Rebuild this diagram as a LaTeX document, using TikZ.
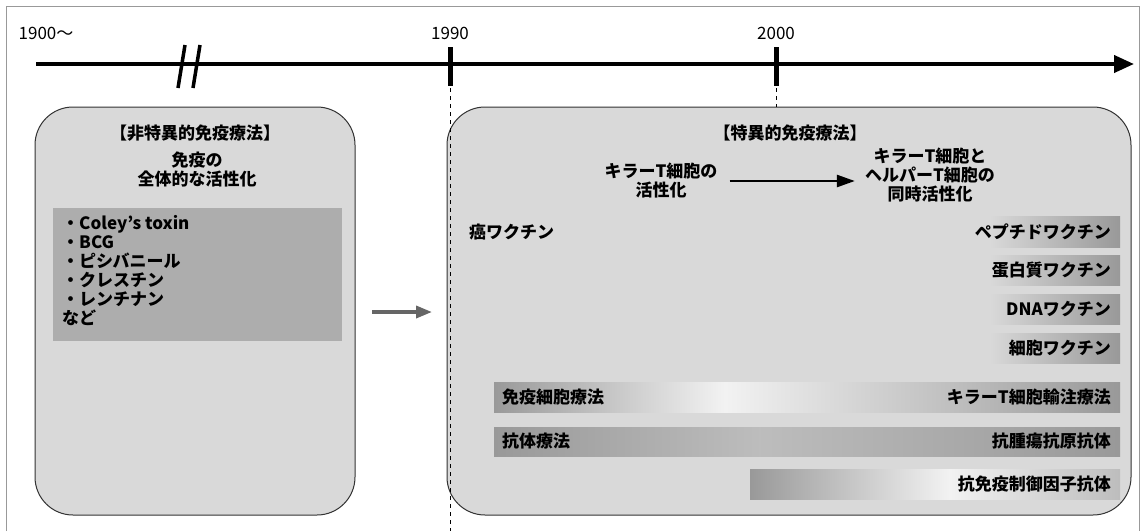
\documentclass[tikz,border=0pt]{standalone}
\usepackage{fontspec}
\setmainfont{Noto Sans CJK JP}
\usetikzlibrary{arrows.meta}
\definecolor{boxfill}{gray}{0.85}
\definecolor{rectfill}{gray}{0.68}
\definecolor{bardark}{gray}{0.60}
\definecolor{barmid}{gray}{0.74}
\definecolor{barlight}{gray}{0.95}
\definecolor{framegray}{gray}{0.6}
\begin{document}
\begin{tikzpicture}[x=1pt,y=-1pt,
  yearlbl/.style={font=\fontsize{17}{20}\selectfont, inner sep=0pt},
  txt/.style={font=\bfseries\fontsize{17}{19}\selectfont, inner sep=0pt, align=center},
  roundbox/.style={draw=black!80, line width=1pt, fill=boxfill, rounded corners=38pt},
  tickmark/.style={line width=5pt},
  breakmark/.style={line width=3.5pt},
  guide/.style={line width=1pt, dash pattern=on 4pt off 4pt},
  timeline/.style={line width=4pt, -{Triangle[length=20pt,width=17pt]}},
  grayarrow/.style={draw=black!60, line width=3.5pt, -{Triangle[length=16pt,width=12pt]}},
  blackarrow/.style={line width=2.5pt, -{Triangle[length=18pt,width=12pt]}}]
\useasboundingbox (0,0) rectangle (1141,531);
% outer frame
\draw[framegray, line width=0.8pt] (6,531) -- (6,6) -- (1139,6) -- (1139,531);

% boxes
\draw[roundbox] (35,107) rectangle (355,515);
\draw[roundbox] (447,107) rectangle (1131,515);

% guides
\draw[guide] (450,88) -- (450,531);
\draw[guide] (776,88) -- (776,107);

% timeline
\coordinate (t0) at (36,64);
\coordinate (t1) at (1134,64);
\draw[timeline] (t0) -- (t1);
\draw[tickmark] (450,47) -- (450,86);
\draw[tickmark] (776,47) -- (776,86);
\draw[breakmark] (185,45) -- (178,88);
\draw[breakmark] (200,45) -- (193,88);
\node[yearlbl] (y1900) at (46,33) {1900〜};
\node[yearlbl] (y1990) at (450,33) {1990};
\node[yearlbl] (y2000) at (776,33) {2000};

% left box content
\node[txt] (ltitle) at (195,133) {【非特異的免疫療法】};
\node[txt] (lsub) at (197,169) {免疫の\\全体的な活性化};
\fill[rectfill] (53,208) rectangle (342,341);
\node[txt, align=left, anchor=north west] (litems) at (62,215)
  {・Coley’s toxin\\・BCG\\・ピシバニール\\・クレスチン\\・レンチナン\\など};

% gray arrow between boxes
\coordinate (ga0) at (372,312);
\coordinate (ga1) at (432,312);
\draw[grayarrow] (ga0) -- (ga1);

% right box content
\node[txt] (rtitle) at (790,133) {【特異的免疫療法】};
\node[txt] (k1) at (661,181) {キラーT細胞の\\活性化};
\node[txt] (k2) at (930,175) {キラーT細胞と\\ヘルパーT細胞の\\同時活性化};
\draw[blackarrow, shorten <=12pt, shorten >=10pt] (k1.east) -- (k1.east -| k2.west);

% vaccine bars
\shade[left color=boxfill, right color=bardark] (990,216) rectangle (1120,247);
\shade[left color=boxfill, right color=bardark] (990,255) rectangle (1120,285);
\shade[left color=boxfill, right color=bardark] (990,294) rectangle (1120,324);
\shade[left color=boxfill, right color=bardark] (990,333) rectangle (1120,363);
\node[txt, anchor=west] (gan) at (469,232) {癌ワクチン};
\node[txt, anchor=east] (pep) at (1111,232) {ペプチドワクチン};
\node[txt, anchor=east] (prot) at (1111,270) {蛋白質ワクチン};
\node[txt, anchor=east] (dna) at (1111,309) {DNAワクチン};
\node[txt, anchor=east] (cell) at (1111,348) {細胞ワクチン};

% therapy bars
\shade[left color=bardark, right color=barlight] (494,382) rectangle (725,412);
\shade[left color=barlight, right color=bardark] (724,382) rectangle (1120,412);
\shade[left color=bardark, right color=barmid] (494,427) rectangle (760,456);
\shade[left color=barmid, right color=bardark] (759,427) rectangle (1120,456);
\shade[left color=bardark, right color=barlight] (750,469) rectangle (950,499);
\shade[left color=barlight, right color=barmid] (949,469) rectangle (1120,499);
\node[txt, anchor=west] (imm) at (502,397) {免疫細胞療法};
\node[txt, anchor=east] (ktc) at (1111,397) {キラーT細胞輸注療法};
\node[txt, anchor=west] (ab) at (502,441) {抗体療法};
\node[txt, anchor=east] (tum) at (1111,441) {抗腫瘍抗原抗体};
\node[txt, anchor=east] (chk) at (1111,484) {抗免疫制御因子抗体};
\end{tikzpicture}
\end{document}
